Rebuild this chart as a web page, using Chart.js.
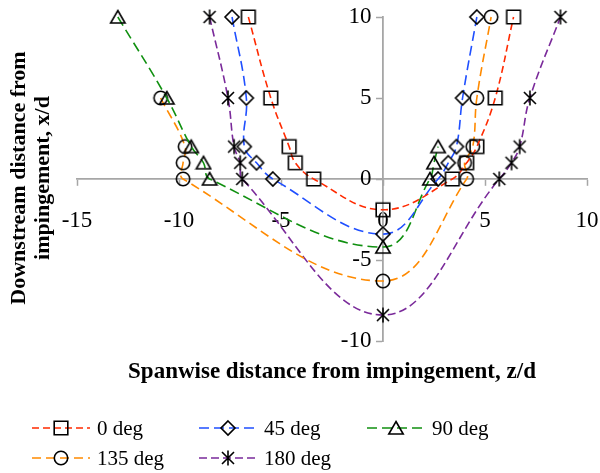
<!DOCTYPE html>
<html>
<head>
<meta charset="utf-8">
<script src="https://cdn.jsdelivr.net/npm/chart.js@4.4.1/dist/chart.umd.min.js"></script>
<style>
  html, body { margin: 0; padding: 0; background: #fff; }
  #wrap { position: relative; width: 600px; height: 473px; }
</style>
</head>
<body>
<div id="wrap"><canvas id="chart" width="600" height="473"></canvas></div>
<script>
// ─── data: z/d (spanwise) and x/d (downstream) ───
const seriesNames = ['0 deg', '45 deg', '90 deg', '135 deg', '180 deg'];

const zDeg0   = [-6.6, -5.5, -4.6, -4.3, -3.4, 0, 3.4, 4.1, 4.6, 5.5, 6.4];
const xDeg0   = [10, 5, 2, 1, 0, -1.9, 0, 1, 2, 5, 10];

const zDeg45  = [-7.4, -6.7, -6.8, -6.2, -5.4, 0, 2.7, 3.2, 3.6, 3.9, 4.6];
const xDeg45  = [10, 5, 2, 1, 0, -3.4, 0, 1, 2, 5, 10];

const zDeg90  = [-13.0, -10.6, -9.4, -8.8, -8.5, 0, 2.3, 2.5, 2.7];
const xDeg90  = [10, 5, 2, 1, 0, -4.2, 0, 1, 2];

const zDeg135 = [-10.9, -9.7, -9.8, -9.8, 0, 4.1, 4.0, 4.4, 4.6, 5.3];
const xDeg135 = [5, 2, 1, 0, -6.3, 0, 1, 2, 5, 10];

const zDeg180 = [-8.5, -7.6, -7.3, -7.0, -6.9, 0, 5.7, 6.3, 6.7, 7.2, 8.7];
const xDeg180 = [10, 5, 2, 1, 0, -8.4, 0, 1, 2, 5, 10];

const xTicks = [-15, -10, -5, 0, 5, 10];
const yTicks = [-10, -5, 0, 5, 10];

const xTitle = 'Spanwise distance from impingement, z/d';
const yTitle = ['Downstream distance from', 'impingement, x/d'];

// ─── styles ──────────────────────────────────────────────────────────
const FONT = "'Liberation Serif', 'Times New Roman', serif";
const AXIS_GRAY = '#a6a6a6';
const lineColors = ['#ff2a00', '#1f4fff', '#109010', '#ff8a00', '#7a2a9a'];
const dashes = [[7, 4], [10, 5], [10, 5], [9, 5], [8, 4]];
const markerKinds = ['square', 'diamond', 'triangle', 'circle', 'star'];

// marker sprites — black outline, hollow (line shows through, as in Excel)
function makeMarker(kind) {
  const s = 18, c = s / 2;
  const cv = document.createElement('canvas');
  cv.width = s; cv.height = s;
  const g = cv.getContext('2d');
  g.strokeStyle = '#000'; g.lineWidth = 1.6;
  g.beginPath();
  if (kind === 'square') g.rect(c - 6.8, c - 6.8, 13.6, 13.6);
  else if (kind === 'diamond') { g.moveTo(c, c - 7); g.lineTo(c + 7, c); g.lineTo(c, c + 7); g.lineTo(c - 7, c); g.closePath(); }
  else if (kind === 'triangle') { g.moveTo(c, c - 6.5); g.lineTo(c + 7.2, c + 6); g.lineTo(c - 7.2, c + 6); g.closePath(); }
  else if (kind === 'circle') g.arc(c, c, 6.7, 0, Math.PI * 2);
  else if (kind === 'star') {
    g.moveTo(c - 6, c - 6); g.lineTo(c + 6, c + 6);
    g.moveTo(c + 6, c - 6); g.lineTo(c - 6, c + 6);
    g.moveTo(c, c - 7.5); g.lineTo(c, c + 7.5);
  }
  g.stroke();
  return cv;
}
const markers = markerKinds.map(makeMarker);

const zSeries = [zDeg0, zDeg45, zDeg90, zDeg135, zDeg180];
const xSeries = [xDeg0, xDeg45, xDeg90, xDeg135, xDeg180];

const datasets = seriesNames.map((name, i) => ({
  label: name,
  data: zSeries[i].map((z, k) => ({ x: z, y: xSeries[i][k] })),
  showLine: true,
  tension: 0.4,
  borderColor: lineColors[i],
  borderWidth: 1.6,
  borderDash: dashes[i],
  pointStyle: markers[i],
  pointRadius: 9,
  pointHoverRadius: 9,
  clip: false,
}));

// titles + Excel-style legend drawn on the canvas
const extrasPlugin = {
  id: 'extras',
  afterDraw(chart) {
    const ctx = chart.ctx;
    ctx.save();
    ctx.fillStyle = '#000';
    ctx.textAlign = 'center';
    ctx.textBaseline = 'middle';
    ctx.font = `bold 23px ${FONT}`;
    ctx.fillText(xTitle, 332, 372);

    ctx.save();
    ctx.font = `bold 22px ${FONT}`;
    ctx.translate(19, 178);
    ctx.rotate(-Math.PI / 2);
    ctx.fillText(yTitle[0], 0, 0);
    ctx.fillText(yTitle[1], 0, 24);
    ctx.restore();

    const cols = [32, 199, 367], rows = [428, 458];
    ctx.font = `21px ${FONT}`;
    ctx.textAlign = 'left';
    seriesNames.forEach((name, i) => {
      const x = cols[i % 3], y = rows[Math.floor(i / 3)];
      ctx.save();
      ctx.strokeStyle = lineColors[i];
      ctx.lineWidth = 1.6;
      ctx.setLineDash(dashes[i]);
      ctx.beginPath(); ctx.moveTo(x, y); ctx.lineTo(x + 58, y); ctx.stroke();
      ctx.restore();
      ctx.drawImage(markers[i], x + 29 - 9, y - 9);
      ctx.fillText(name, x + 65, y + 1);
    });
    ctx.restore();
  },
};

const axisCommon = {
  type: 'linear',
  grid: { drawOnChartArea: false, drawTicks: true, tickLength: 6, tickColor: AXIS_GRAY, tickWidth: 1.5 },
  border: { color: AXIS_GRAY, width: 1.8 },
};

// axes cross at the origin; keep them from eating layout space
function flatten(s) {
  if (s.isHorizontal()) s.height = 0; else s.width = 0;
  s.paddingLeft = s.paddingRight = s.paddingTop = s.paddingBottom = 0;
}

new Chart(document.getElementById('chart'), {
  type: 'scatter',
  data: { datasets },
  options: {
    responsive: false,
    animation: false,
    layout: { padding: { left: 77, right: 13, top: 17, bottom: 132 } },
    plugins: { legend: { display: false }, tooltip: { enabled: false } },
    scales: {
      x: {
        ...axisCommon,
        min: xTicks[0], max: xTicks[xTicks.length - 1],
        position: { y: 0 },
        afterFit: flatten,
        afterBuildTicks: s => { s.ticks = xTicks.map(v => ({ value: v })); },
        ticks: { color: '#000', font: { family: FONT, size: 23 }, padding: 22, maxRotation: 0 },
      },
      y: {
        ...axisCommon,
        min: yTicks[0], max: yTicks[yTicks.length - 1],
        position: { x: 0 },
        afterFit: flatten,
        afterBuildTicks: s => { s.ticks = yTicks.map(v => ({ value: v })); },
        // centred y axis ignores ticks.padding, so pad the label end instead
        ticks: { color: '#000', font: { family: FONT, size: 23 }, callback: v => v + '  ' },
      },
    },
  },
  plugins: [extrasPlugin],
});
</script>
</body>
</html>
